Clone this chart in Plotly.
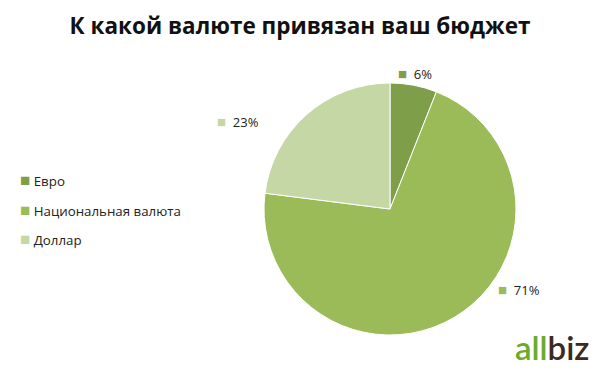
import plotly.graph_objects as go

title = "К какой валюте привязан ваш бюджет"
categories = ["Евро", "Национальная валюта", "Доллар"]
values = [6, 71, 23]
colors = ["#7f9e4a", "#9bbb59", "#c6d7a6"]
pct_labels = ["6%", "71%", "23%"]

fig = go.Figure()
fig.add_trace(go.Pie(
    labels=categories, values=values, sort=False, direction="clockwise", rotation=0,
    marker=dict(colors=colors, line=dict(color="white", width=1)),
    textinfo="none", hoverinfo="label+percent", showlegend=False,
    domain=dict(x=[264/600, 516/600], y=[1-335/368, 1-83/368]),
))

font = "Open Sans, Noto Sans, sans-serif"
ann = []
# legend (manual)
leg_y = [180, 209, 238]
for cat, col, y in zip(categories, colors, leg_y):
    ann.append(dict(x=18, y=y, xref="paper", yref="paper",
                    text=f"<span style='color:{col};font-size:17px'>■</span> {cat}",
                    showarrow=False, xanchor="left", yanchor="middle", font=dict(size=13.3, color="#222", family=font)))
# data labels
lab_pos = [(396, 73), (496, 289), (215, 121)]
for lab, col, (x, y) in zip(pct_labels, colors, lab_pos):
    ann.append(dict(x=x, y=y, xref="paper", yref="paper",
                    text=f"<span style='color:{col};font-size:15px'>■</span>  {lab}",
                    showarrow=False, xanchor="left", yanchor="middle", font=dict(size=13, color="#222", family=font)))
for a in ann:
    a["x"] = a["x"] / 600
    a["y"] = 1 - a["y"] / 368
# logo
ann.append(dict(x=590/600, y=0, xref="paper", yref="paper",
                text="<span style='color:#6aab2c'>all</span><span style='color:#3a2a20'>biz</span>",
                showarrow=False, xanchor="right", yanchor="bottom", borderpad=0,
                font=dict(size=33, family="Lato, sans-serif", weight=600)))

fig.update_layout(
    width=600, height=368, margin=dict(l=0, r=0, t=0, b=0),
    paper_bgcolor="white", plot_bgcolor="white",
    title=dict(text=f"<b>{title}</b>", x=0.5, xanchor="center", y=1-26/368, yanchor="middle",
               font=dict(size=22.5, color="#111", family=font)),
    annotations=ann,
)
fig.write_html("out.html", config={"displayModeBar": False},
               post_script="document.body.style.margin='0';document.body.style.overflow='hidden';")
